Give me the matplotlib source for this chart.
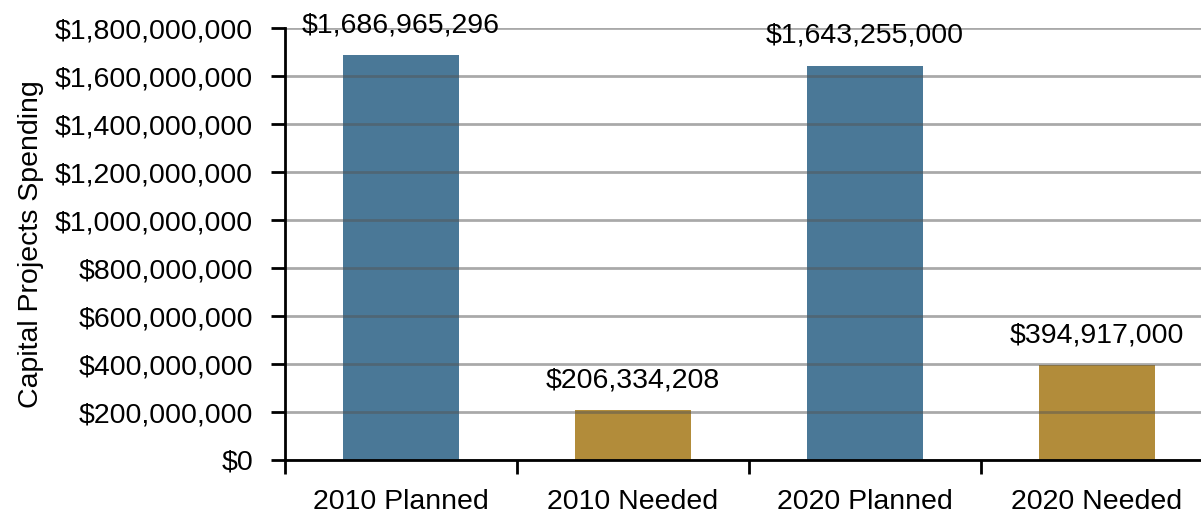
import matplotlib
matplotlib.use("Agg")
import matplotlib.pyplot as plt
from matplotlib.ticker import FuncFormatter

categories = ["2010 Planned", "2010 Needed", "2020 Planned", "2020 Needed"]
values = [1686965296, 206334208, 1643255000, 394917000]
bar_colors = ["#4a7897", "#b28c3a", "#4a7897", "#b28c3a"]
ytick_values = list(range(0, 1800000001, 200000000))

plt.rcParams['font.family'] = ['Liberation Sans', 'DejaVu Sans']

W, H = 1201, 516
fs = 20.5
fig = plt.figure(figsize=(W / 100, H / 100), dpi=100)
ax = fig.add_axes([285 / W, (H - 460) / H, 916 / W, 432 / H])

x = list(range(len(categories)))
ax.bar(x, values, width=0.5, color=bar_colors, zorder=2)

ax.set_ylim(0, 1800000000)
ax.set_xlim(-0.5, -0.5 + 916 / 232)
ax.set_yticks(ytick_values)
ax.yaxis.set_major_formatter(FuncFormatter(lambda v, p: "${:,.0f}".format(v)))
ax.grid(axis='y', color='#555555', alpha=0.5, linewidth=2, zorder=3)
ax.set_axisbelow(False)

ax.set_xticks(x)
ax.set_xticklabels(categories)
ax.set_xticks([-0.5, 0.5, 1.5, 2.5], minor=True)
ax.tick_params(axis='x', which='major', length=0, pad=21, labelsize=fs)
ax.tick_params(axis='x', which='minor', length=10, width=2, direction='out')
ax.tick_params(axis='y', length=10, width=2, direction='out', pad=13, labelsize=fs)

for s in ['top', 'right']:
    ax.spines[s].set_visible(False)
for s in ['left', 'bottom']:
    ax.spines[s].set_linewidth(2)
    ax.spines[s].set_zorder(4)

ax.set_ylabel("Capital Projects Spending", fontsize=fs, labelpad=8)

for xi, v in zip(x, values):
    ax.annotate("${:,.0f}".format(v), (xi, v), xytext=(0, 12), textcoords='offset points',
                ha='center', va='bottom', fontsize=fs, annotation_clip=False)

fig.savefig("out.png", dpi=100)
